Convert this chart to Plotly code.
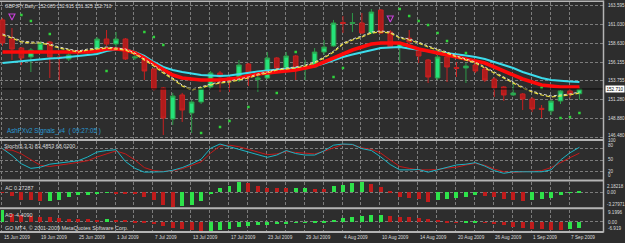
import plotly.graph_objects as go

W, H = 625, 243
PLOT_RIGHT = 603.5

def fy(px):
    return 1 - px / H

def fx(px):
    return px / W

# ---------------- data ----------------
bars = list(range(62))
date_bars = list(range(0, 62, 4))
date_labels = ["15 Jun 2009", "19 Jun 2009", "25 Jun 2009", "1 Jul 2009", "7 Jul 2009",
               "13 Jul 2009", "17 Jul 2009", "23 Jul 2009", "29 Jul 2009", "4 Aug 2009",
               "10 Aug 2009", "14 Aug 2009", "20 Aug 2009", "26 Aug 2009", "1 Sep 2009",
               "7 Sep 2009"]

opens = [161.66, 159.19, 158.02, 156.86, 157.76, 158.80, 156.86, 156.60, 157.55, 157.40,
         157.37, 159.19, 158.54, 159.19, 156.73, 156.47, 155.30, 152.84, 148.81, 151.93,
         149.59, 151.02, 152.97, 154.78, 154.20, 153.87, 155.95, 153.95, 154.13, 156.73,
         155.43, 156.99, 155.30, 155.56, 157.50, 158.28, 161.33, 161.20, 161.27, 159.97,
         162.95, 160.10, 158.15, 159.30, 157.89, 156.47, 154.13, 156.86, 155.50, 155.43,
         155.82, 155.30, 154.00, 152.97, 151.93, 152.06, 151.41, 150.20, 149.85, 151.15,
         152.45, 152.085]
highs = [161.90, 160.62, 158.15, 158.02, 158.93, 158.93, 157.37, 157.37, 157.76, 157.76,
         159.45, 160.36, 160.10, 159.32, 157.12, 156.60, 155.43, 152.97, 152.20, 152.20,
         151.28, 153.00, 155.04, 155.04, 154.50, 156.47, 156.08, 154.65, 157.50, 156.86,
         157.50, 157.12, 156.50, 158.02, 159.06, 161.66, 162.17, 162.56, 162.56, 163.08,
         163.08, 160.36, 158.80, 160.36, 158.15, 156.60, 157.12, 157.12, 156.21, 156.08,
         156.08, 155.56, 154.26, 153.09, 153.61, 152.19, 151.67, 150.63, 151.28, 152.58,
         152.97, 152.915]
lows = [158.30, 156.47, 155.82, 154.91, 157.50, 154.13, 153.87, 156.34, 156.99, 156.99,
        157.12, 158.28, 158.15, 156.47, 156.47, 153.87, 152.50, 146.74, 148.04, 148.43,
        147.00, 150.76, 152.70, 152.32, 152.32, 153.61, 153.09, 152.32, 154.00, 154.91,
        155.17, 153.87, 153.87, 155.43, 157.12, 158.15, 159.97, 160.10, 159.84, 159.84,
        159.84, 158.02, 156.08, 158.50, 156.08, 153.48, 153.87, 153.61, 154.26, 153.48,
        154.78, 153.61, 151.67, 151.15, 151.80, 149.98, 149.72, 148.94, 149.33, 150.76,
        151.54, 151.325]
closes = [158.67, 157.89, 156.73, 157.76, 158.67, 156.86, 156.73, 157.12, 157.45, 157.55,
          159.19, 158.54, 159.19, 156.60, 156.86, 155.04, 152.71, 148.94, 151.80, 149.98,
          151.02, 152.84, 154.78, 154.26, 153.95, 155.82, 154.39, 154.13, 156.73, 155.43,
          156.99, 155.17, 155.50, 157.50, 158.15, 161.27, 161.20, 161.33, 159.97, 162.69,
          159.97, 158.15, 158.67, 158.80, 156.99, 154.26, 156.86, 155.56, 155.37, 155.69,
          155.04, 153.87, 152.84, 151.93, 152.19, 151.41, 150.11, 150.05, 151.15, 152.45,
          152.06, 152.710]

ma_slow = [156.08, 156.21, 156.34, 156.40, 156.60, 156.66, 156.73, 156.86, 156.92, 157.05,
           157.24, 157.63, 157.83, 157.83, 157.50, 156.99, 156.21, 155.56, 155.17, 154.91,
           154.72, 154.52, 154.46, 154.39, 154.46, 154.65, 154.78, 154.98, 155.11, 155.24,
           155.37, 155.43, 155.50, 155.69, 156.02, 156.47, 156.86, 157.18, 157.44, 157.76,
           158.02, 158.09, 158.15, 157.96, 157.76, 157.63, 157.50, 157.37, 157.24, 157.05,
           156.86, 156.60, 156.21, 155.82, 155.43, 154.91, 154.52, 154.13, 153.87, 153.74,
           153.68, 153.61]
ma_mid = [157.50, 157.50, 157.50, 157.44, 157.44, 157.44, 157.44, 157.44, 157.50, 157.50,
          157.63, 157.89, 157.89, 157.76, 157.37, 156.73, 155.95, 155.17, 154.52, 154.13,
          154.00, 153.87, 153.87, 153.87, 154.00, 154.13, 154.39, 154.65, 154.78, 154.91,
          155.04, 155.17, 155.43, 155.69, 156.21, 156.73, 157.24, 157.76, 158.15, 158.54,
          158.67, 158.67, 158.67, 158.28, 157.89, 157.63, 157.37, 157.12, 156.86, 156.60,
          156.34, 156.08, 155.56, 155.04, 154.52, 154.00, 153.61, 153.22, 153.09, 152.97,
          152.97, 152.97]
ma_fast_yellow = [159.71, 159.32, 158.80, 158.67, 158.67, 158.41, 158.02, 157.76, 157.50, 157.76,
                  157.89, 158.02, 157.89, 157.76, 157.24, 156.47, 155.69, 154.78, 154.00, 153.09,
                  152.58, 152.84, 153.22, 153.48, 153.61, 153.87, 154.13, 154.52, 154.78, 155.17,
                  155.30, 155.43, 155.69, 156.08, 156.73, 157.50, 158.54, 159.06, 159.45, 159.97,
                  160.10, 159.97, 159.32, 159.06, 158.67, 158.15, 157.76, 157.37, 156.86, 156.47,
                  156.08, 155.43, 154.78, 154.13, 153.48, 152.84, 152.32, 151.93, 151.67, 151.80,
                  151.93, 152.19]
ma_fast_white = [159.84, 159.45, 158.93, 158.80, 158.80, 158.54, 158.15, 157.89, 157.63, 157.89,
                 158.02, 158.15, 158.02, 157.89, 157.37, 156.60, 155.82, 154.91, 154.13, 153.22,
                 152.71, 152.97, 153.35, 153.61, 153.74, 154.00, 154.26, 154.65, 154.91, 155.30,
                 155.43, 155.56, 155.82, 156.21, 156.86, 157.63, 158.67, 159.19, 159.58, 160.10,
                 160.23, 160.10, 159.45, 159.19, 158.80, 158.28, 157.89, 157.50, 156.99, 156.60,
                 156.21, 155.56, 154.91, 154.26, 153.61, 152.97, 152.45, 152.06, 151.80, 151.93,
                 152.06, 152.32]

sar_bars = [2, 3, 5, 11, 15, 16, 17, 21, 23, 24, 26, 29, 31, 35, 36, 42, 43, 44, 45, 46, 47, 49,
            57, 59, 60, 61]
sar_vals = [162.30, 161.53, 159.84, 155.04, 160.10, 159.45, 158.41, 147.00, 147.78, 148.55,
            150.37, 152.19, 157.50, 154.26, 155.43, 163.08, 162.17, 161.53, 161.01, 159.97,
            158.93, 157.37, 152.84, 148.94, 149.07, 149.59]

signal_bars = [1, 41]
signal_vals = [161.66, 161.40]

stoch_main = [80, 62, 40, 28, 31, 39, 42, 45, 48, 58, 71, 75, 77, 46, 28, 18, 18, 19, 23, 30,
              40, 52, 81, 92, 85, 78, 72, 64, 57, 63, 75, 67, 63, 63, 74, 89, 92, 91, 80, 75,
              58, 38, 24, 24, 25, 18, 24, 32, 37, 39, 43, 34, 22, 15, 19, 19, 19, 19, 24, 50,
              69, 83.4853]
stoch_signal = [77, 76, 66, 50, 36, 33, 36, 40, 44, 48, 58, 66, 74, 66, 50, 30, 22, 20, 22, 27,
                35, 45, 68, 87, 89, 85, 78, 70, 64, 66, 72, 70, 68, 66, 73, 83, 91, 90, 82, 78,
                68, 50, 33, 28, 24, 24, 25, 29, 31, 37, 41, 36, 26, 19, 17, 19, 20, 22, 30, 44,
                56, 68.02]

ac_vals = [-0.2, -0.9, -1.82, -1.85, -2.04, -2.0, -1.82, -1.1, -0.73, -0.6,
           -0.5, -0.2, -0.25, -0.28, -0.37, -1.1, -1.82, -2.9, -3.28, -3.13,
           -2.9, -2.0, -0.4, 0.88, 1.39, 2.1, 1.97, 1.24, 0.88, 0.85,
           0.8, 0.88, 0.95, 0.73, 0.66, 1.24, 1.6, 2.05, 2.18, 1.75,
           1.1, 0.3, -1.2, -1.39, -1.6, -2.12, -1.82, -1.55, -1.39, -1.1,
           -0.73, -0.88, -1.1, -1.46, -1.75, -1.97, -1.82, -1.6, -1.24, -0.73,
           -0.08, 0.27287]
ao_vals = [9.2, 6.5, 5.6, 4.8, 4.2, 3.6, 3.1, 2.8, 2.5, 2.1,
           1.9, 2.6, 2.0, 1.6, 1.3, 0.6, -0.8, -2.6, -4.0, -5.2,
           -6.0, -6.7, -6.3, -5.6, -4.7, -3.6, -2.7, -2.2, -1.8, -1.1,
           -0.8, -0.5, 0.2, 0.6, 1.2, 2.0, 3.0, 4.0, 4.8, 5.3,
           5.5, 4.9, 4.3, 3.9, 3.1, 2.5, 1.7, 0.9, 0.2, 0.25,
           0.35, -0.4, -1.3, -2.4, -3.4, -4.4, -5.0, -5.4, -5.7, -5.9,
           -5.2, -4.409]

price_ticks = [163.595, 161.030, 158.630, 156.155, 153.755, 151.280, 148.880, 146.480]
stoch_levels = [20, 50, 80]
ac_extremes = [2.18218, -3.27971]
ao_extremes = [9.1996, -6.919]

# ---------------- style ----------------
BG = "#2d2d2d"
GRID = "#7c7c7c"
FRAME = "#b4b4b4"
TXT = "#dcdcdc"
UP = "#25e27a"
DN = "#b01c1c"
FONT = "Liberation Sans"

def hist_colors(vals, first):
    out = [first]
    for i in range(1, len(vals)):
        out.append("#2ee24a" if vals[i] > vals[i - 1] else "#c01c1c")
    return out

fig = go.Figure()

fig.add_trace(go.Candlestick(
    x=bars, open=opens, high=highs, low=lows, close=closes,
    increasing=dict(line=dict(color="#2c9a48", width=1), fillcolor=UP),
    decreasing=dict(line=dict(color="#c82020", width=1), fillcolor=DN),
    whiskerwidth=0, xaxis="x", yaxis="y", hoverinfo="skip"))

fig.add_trace(go.Scatter(x=bars, y=ma_slow, mode="lines",
                         line=dict(color="#3cdcec", width=2), xaxis="x", yaxis="y"))
fig.add_trace(go.Scatter(x=bars, y=ma_mid, mode="lines",
                         line=dict(color="#ff0a0a", width=3.6), xaxis="x", yaxis="y"))
fig.add_trace(go.Scatter(x=bars, y=ma_fast_white, mode="lines",
                         line=dict(color="#d8d8d8", width=1, dash="3px,2px"), xaxis="x", yaxis="y"))
fig.add_trace(go.Scatter(x=bars, y=ma_fast_yellow, mode="lines",
                         line=dict(color="#ece040", width=1.2, dash="4px,2px"), xaxis="x", yaxis="y"))
fig.add_trace(go.Scatter(x=sar_bars, y=sar_vals, mode="markers",
                         marker=dict(color="#2fd23c", size=2.5, symbol="square"),
                         xaxis="x", yaxis="y"))
fig.add_trace(go.Scatter(x=signal_bars, y=signal_vals, mode="markers",
                         marker=dict(color="#c840d8", size=6, symbol="arrow-down-open",
                                     line=dict(width=1.1, color="#c840d8")),
                         xaxis="x", yaxis="y"))

fig.add_trace(go.Scatter(x=bars, y=stoch_signal, mode="lines",
                         line=dict(color="#c41a1a", width=1), xaxis="x2", yaxis="y2"))
fig.add_trace(go.Scatter(x=bars, y=stoch_main, mode="lines",
                         line=dict(color="#1cb4c4", width=1), xaxis="x2", yaxis="y2"))

fig.add_trace(go.Bar(x=bars, y=ac_vals, marker=dict(color=hist_colors(ac_vals, "#c01c1c"), line=dict(width=0)),
                     width=0.42, xaxis="x3", yaxis="y3"))
fig.add_trace(go.Bar(x=bars, y=ao_vals, marker=dict(color=hist_colors(ao_vals, "#2ee24a"), line=dict(width=0)),
                     width=0.42, xaxis="x4", yaxis="y4"))

xrange = [-0.265, 63.545]
grid_x = [b - 0.1 for b in bars if b % 2 == 0]
xdom = [0, fx(PLOT_RIGHT)]

def xax(anchor, match=None):
    d = dict(domain=xdom, range=xrange, anchor=anchor, showticklabels=False,
             tickvals=grid_x, showgrid=True, gridcolor=GRID, griddash="3px,2px", gridwidth=1,
             zeroline=False, showline=False, ticks="", fixedrange=True)
    if match:
        d["matches"] = match
    return d

def yax(dom, rng, tickvals):
    return dict(domain=dom, range=rng, side="right", tickvals=tickvals, showticklabels=False,
                showgrid=True, gridcolor=GRID, griddash="3px,2px", gridwidth=1,
                zeroline=False, showline=False, ticks="", fixedrange=True)

layout = dict(
    width=W, height=H, margin=dict(l=0, r=0, t=0, b=0),
    paper_bgcolor=BG, plot_bgcolor=BG, showlegend=False, hovermode=False,
    font=dict(family=FONT, size=5, color=TXT),
    bargap=0,
    xaxis=xax("y"), xaxis2=xax("y2", "x"), xaxis3=xax("y3", "x"), xaxis4=xax("y4", "x"),
    yaxis=yax([fy(139), fy(2)], [146.22, 163.99], price_ticks),
    yaxis2=yax([fy(179), fy(141)], [0, 100], stoch_levels),
    yaxis3=yax([fy(207), fy(182)], [-3.28, 2.19], [0]),
    yaxis4=yax([fy(231), fy(209.5)], [-6.92, 9.2], [0]),
)
layout["xaxis"]["rangeslider"] = dict(visible=False)
fig.update_layout(**layout)

shapes = []
# current price line
shapes.append(dict(type="line", xref="x domain", yref="y", x0=0, x1=1,
                   y0=closes[-1], y1=closes[-1], line=dict(color="#0c0c0c", width=1)))
# panel frames
for row, wd in [(1.2, 1.5), (140, 2), (180.5, 2), (208.2, 2), (232, 2)]:
    shapes.append(dict(type="line", xref="paper", yref="paper", x0=0, x1=fx(PLOT_RIGHT),
                       y0=fy(row), y1=fy(row), line=dict(color=FRAME, width=wd)))
shapes.append(dict(type="line", xref="paper", yref="paper", x0=fx(PLOT_RIGHT), x1=fx(PLOT_RIGHT),
                   y0=fy(0.5), y1=fy(232.5), line=dict(color=FRAME, width=1.5)))
fig.update_layout(shapes=shapes)

ann = []
LX = fx(606)
for v in price_ticks:
    sh = 1.5 if v == price_ticks[-1] else 0
    ann.append(dict(x=LX, xref="paper", y=v, yref="y", yshift=sh, text=f"{v:.3f}", showarrow=False,
                    xanchor="left", yanchor="middle", font=dict(size=4.6, color=TXT)))
ann.append(dict(x=fx(604.5), xref="paper", y=closes[-1], yref="y", text=f"{closes[-1]:.3f}",
                showarrow=False, xanchor="left", yanchor="middle", bgcolor="#ffffff",
                borderpad=0.5, font=dict(size=4.6, color="#000000")))
for v, t, sh in [(100, "100", 0.5), (80, "80", 3), (50, "50", 0.7), (20, "20", 0), (0, "0", 3.3)]:
    ann.append(dict(x=LX, xref="paper", y=v, yref="y2", yshift=sh, text=t, showarrow=False,
                    xanchor="left", yanchor="middle", font=dict(size=4.6, color=TXT)))
for v, t, sh in [(ac_extremes[0], "2.18218", -4), (0, "0.00", 0), (ac_extremes[1], "-3.27971", 2.7)]:
    ann.append(dict(x=fx(605), xref="paper", y=v, yref="y3", yshift=sh, text=t, showarrow=False,
                    xanchor="left", yanchor="middle", font=dict(size=4.5, color=TXT)))
for v, t, sh in [(ao_extremes[0], "9.1996", -2.8), (0, "0.00", -0.9), (ao_extremes[1], "-6.919", 3)]:
    ann.append(dict(x=LX, xref="paper", y=v, yref="y4", yshift=sh, text=t, showarrow=False,
                    xanchor="left", yanchor="middle", font=dict(size=4.6, color=TXT)))

for b, t in zip(date_bars, date_labels):
    ann.append(dict(x=b - 0.1, xref="x4", y=fy(237), yref="paper", text=t, showarrow=False,
                    xanchor="left", yanchor="middle", font=dict(size=4.7, color=TXT)))

header = "GBPJPY,Daily  {:.3f} {:.3f} {:.3f} {:.3f}".format(opens[-1], highs[-1], lows[-1], closes[-1])
texts = [
    (header, 3, 6, 4.8, TXT),
    ("AshFXv2 Signals_v4  ( 09:27:05 )", 5, 131, 6.3, "#2a9ad2"),
    ("Stoch(5,3,3) {:.4f} {:.4f}".format(stoch_main[-1], stoch_signal[-1]), 2, 146, 5.4, TXT),
    ("AC {:.5f}".format(ac_vals[-1]), 3, 188, 5.4, TXT),
    ("AO {:.4f}".format(ao_vals[-1]), 3, 215, 5.4, TXT),
    ("GO MT4, \u00a9 2001-2009 MetaQuotes Software Corp.", 3, 228, 5.4, TXT),
]
for t, x, y, s, c in texts:
    ann.append(dict(x=fx(x), xref="paper", y=fy(y), yref="paper", text=t, showarrow=False,
                    xanchor="left", yanchor="middle", font=dict(size=s, color=c)))

fig.update_layout(annotations=ann)
fig.write_html("out.html")
